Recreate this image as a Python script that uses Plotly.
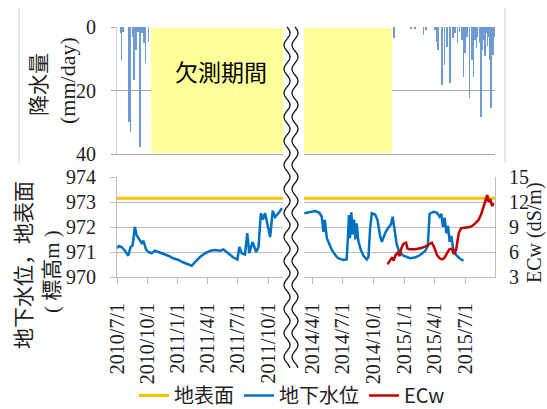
import numpy as np
import pandas as pd
import plotly.graph_objects as go

# ---------------- data ----------------
ground_level = 973.15  # 地表面 (標高m)

left_range = ["2010-07-01", "2011-11-15"]
right_range = ["2014-03-08", "2015-09-28"]
missing_period = ["2010-10-12", "2014-11-25"]  # 欠測期間 (rainfall)

left_tick_labels = ["2010/7/1", "2010/10/1", "2011/1/1", "2011/4/1", "2011/7/1", "2011/10/1"]
right_tick_labels = ["2014/4/1", "2014/7/1", "2014/10/1", "2015/1/1", "2015/4/1", "2015/7/1"]

gw_left_dates = [
    "2010-07-01", "2010-07-07", "2010-07-15", "2010-07-25", "2010-08-04", "2010-08-11",
    "2010-08-17", "2010-08-24", "2010-08-30", "2010-09-06", "2010-09-14", "2010-09-19",
    "2010-09-27", "2010-10-04", "2010-10-14", "2010-10-24", "2010-11-03", "2010-11-18",
    "2010-12-03", "2010-12-18", "2011-01-03", "2011-01-18", "2011-02-02", "2011-02-12",
    "2011-02-22", "2011-03-09", "2011-03-24", "2011-04-09", "2011-04-24", "2011-05-09",
    "2011-05-19", "2011-06-03", "2011-06-18", "2011-06-30", "2011-07-06", "2011-07-13",
    "2011-07-23", "2011-07-30", "2011-08-05", "2011-08-15", "2011-08-26", "2011-09-02",
    "2011-09-09", "2011-09-15", "2011-09-22", "2011-09-29", "2011-10-07", "2011-10-15",
    "2011-10-22", "2011-11-01", "2011-11-12",
]
gw_left_vals = [
    971.15, 971.24, 971.20, 971.05, 970.85, 971.20,
    971.25, 972.00, 971.65, 971.50, 971.35, 971.45,
    971.10, 971.00, 970.95, 971.05, 971.00, 970.95,
    970.85, 970.75, 970.68, 970.58, 970.50, 970.45,
    970.60, 970.80, 970.95, 971.05, 971.08, 971.05,
    971.10, 970.92, 970.78, 970.70, 971.20, 970.95,
    970.90, 971.75, 970.95, 971.40, 971.00, 971.20,
    972.55, 972.30, 972.55, 972.10, 971.60, 972.65,
    972.40, 972.55, 972.75,
]

gw_right_dates = [
    "2014-03-09", "2014-03-26", "2014-04-10", "2014-04-23", "2014-04-30", "2014-05-05",
    "2014-05-09", "2014-05-15", "2014-05-23", "2014-05-30", "2014-06-09", "2014-06-18",
    "2014-07-03", "2014-07-13", "2014-07-17", "2014-07-20", "2014-07-23", "2014-07-27",
    "2014-07-31", "2014-08-04", "2014-08-08", "2014-08-12", "2014-08-17", "2014-08-24",
    "2014-09-01", "2014-09-11", "2014-09-16", "2014-09-21", "2014-09-26", "2014-10-06",
    "2014-10-13", "2014-10-21", "2014-10-26", "2014-11-05", "2014-11-14", "2014-11-22",
    "2014-11-27", "2014-12-02", "2014-12-09", "2014-12-17", "2014-12-29", "2015-01-18",
    "2015-02-02", "2015-02-17", "2015-03-04", "2015-03-12", "2015-03-17", "2015-03-29",
    "2015-04-08", "2015-04-16", "2015-04-21", "2015-04-26", "2015-05-01", "2015-05-06",
    "2015-05-11", "2015-05-16", "2015-05-21", "2015-05-26", "2015-06-04", "2015-06-14",
    "2015-06-26",
]
gw_right_vals = [
    972.55, 972.59, 972.64, 972.57, 972.41, 971.81,
    972.28, 971.55, 971.28, 971.08, 970.88, 970.75,
    970.68, 970.70, 971.61, 972.48, 971.55, 972.59,
    971.70, 972.30, 971.50, 972.15, 971.43, 971.10,
    970.85, 970.70, 970.80, 971.95, 972.55, 972.50,
    972.28, 971.61, 971.41, 971.77, 971.97, 972.10,
    972.41, 971.90, 971.32, 971.00, 970.85, 970.75,
    970.78, 970.88, 971.04, 971.24, 972.52, 972.61,
    972.57, 972.41, 972.52, 972.01, 972.37, 971.75,
    972.04, 971.41, 971.64, 971.15, 970.88, 970.75,
    970.65,
]

ecw_dates = [
    "2014-11-12", "2014-11-18", "2014-11-25", "2014-11-30", "2014-12-06", "2014-12-12",
    "2014-12-18", "2014-12-23", "2014-12-29", "2015-01-06", "2015-01-10", "2015-01-16",
    "2015-02-02", "2015-02-17", "2015-03-04", "2015-03-17", "2015-03-24", "2015-03-31",
    "2015-04-08", "2015-04-16", "2015-04-23", "2015-04-30", "2015-05-08", "2015-05-15",
    "2015-05-23", "2015-05-28", "2015-06-04", "2015-06-12", "2015-06-19", "2015-06-27",
    "2015-07-12", "2015-07-22", "2015-07-31", "2015-08-10", "2015-08-18", "2015-08-25",
    "2015-08-31", "2015-09-05", "2015-09-09", "2015-09-14", "2015-09-19", "2015-09-24",
]
ecw_vals = [
    4.52, 4.96, 5.36, 4.96, 5.64, 5.92,
    5.52, 6.44, 6.96, 7.12, 6.44, 6.32,
    6.32, 6.44, 6.64, 6.96, 7.12, 6.56,
    5.64, 5.24, 5.12, 5.28, 5.92, 6.32,
    6.40, 5.76, 6.24, 8.24, 8.84, 8.92,
    8.96, 9.12, 9.44, 9.84, 10.56, 11.44,
    12.32, 12.84, 12.04, 12.32, 11.52, 11.84,
]

rain_left_dates = [
    "2010-07-12", "2010-07-15", "2010-07-20", "2010-08-07", "2010-08-11", "2010-08-17",
    "2010-08-22", "2010-08-27", "2010-09-03", "2010-09-09", "2010-09-14", "2010-09-21",
    "2010-09-25", "2010-10-04",
]
rain_left_vals = [2.0, 10.4, 1.5, 29.8, 33.0, 3.0, 16.7, 7.2, 1.5, 37.7, 2.0, 5.1, 11.4, 4.6]

rain_right_dates = [
    "2014-12-01", "2015-01-20", "2015-02-02", "2015-02-27", "2015-03-06", "2015-04-02",
    "2015-04-08", "2015-04-11", "2015-04-23", "2015-04-30", "2015-05-08", "2015-05-17",
    "2015-05-25", "2015-06-01", "2015-06-08", "2015-06-14", "2015-06-21", "2015-06-26",
    "2015-07-01", "2015-07-06", "2015-07-14", "2015-07-21", "2015-07-26", "2015-07-31",
    "2015-08-04", "2015-08-07", "2015-08-13", "2015-08-17", "2015-08-20", "2015-08-25",
    "2015-08-29", "2015-09-02", "2015-09-06", "2015-09-09", "2015-09-12", "2015-09-14",
    "2015-09-16", "2015-09-19", "2015-09-22", "2015-09-26",
]
rain_right_vals = [
    3.6, 0.6, 0.5, 2.5, 1.0, 0.8,
    4.6, 7.2, 18.3, 12.0, 6.2, 17.7,
    3.6, 2.0, 5.1, 1.5, 4.1, 15.6,
    8.3, 3.0, 22.5, 10.4, 15.6, 4.1,
    6.5, 3.0, 5.1, 28.2, 7.2, 4.1,
    9.0, 2.0, 6.0, 3.0, 10.4, 19.8,
    25.6, 5.0, 8.8, 3.0,
]

# ---------------- layout helpers ----------------
W, H = 547, 409
def px(x):
    return x / W
def py(y):
    return 1 - y / H

XL = [px(117), px(283)]
XR = [px(304), px(495)]
YB = [py(277), py(177)]
YT = [py(154), py(27)]

SERIF = "Liberation Serif, Noto Sans CJK JP"
CJK = "Noto Sans CJK JP, Liberation Serif"
TXT = "#1e1e1e"
YELLOW = "#FFC000"
BLUE = "#0070C0"
RED = "#C00000"
RAIN = "#6F9BD3"
GRID_B = "#bdbdbd"
GRID_T = "#a6a6a6"

def to_iso(labels):
    return [pd.to_datetime(s, format="%Y/%m/%d").strftime("%Y-%m-%d") for s in labels]

fig = go.Figure()

# ground surface
fig.add_trace(go.Scatter(x=left_range, y=[ground_level] * 2, mode="lines", name="地表面",
                         line=dict(color=YELLOW, width=3), xaxis="x", yaxis="y",
                         legendgroup="g", showlegend=True))
fig.add_trace(go.Scatter(x=right_range, y=[ground_level] * 2, mode="lines", name="地表面",
                         line=dict(color=YELLOW, width=3), xaxis="x2", yaxis="y2",
                         legendgroup="g", showlegend=False))
# groundwater
fig.add_trace(go.Scatter(x=gw_left_dates, y=gw_left_vals, mode="lines", name="地下水位",
                         line=dict(color=BLUE, width=2.5), xaxis="x", yaxis="y",
                         legendgroup="w", showlegend=True))
fig.add_trace(go.Scatter(x=gw_right_dates, y=gw_right_vals, mode="lines", name="地下水位",
                         line=dict(color=BLUE, width=2.5), xaxis="x2", yaxis="y2",
                         legendgroup="w", showlegend=False))
# ECw
fig.add_trace(go.Scatter(x=ecw_dates, y=ecw_vals, mode="lines", name="ECw",
                         line=dict(color=RED, width=2.5), xaxis="x2", yaxis="y3",
                         legendgroup="e", showlegend=True))
# rainfall
DAY = 86400000
fig.add_trace(go.Bar(x=rain_left_dates, y=rain_left_vals, width=1.8 * DAY,
                     marker=dict(color=RAIN, line=dict(width=0)), xaxis="x3", yaxis="y4",
                     showlegend=False))
fig.add_trace(go.Bar(x=rain_right_dates, y=rain_right_vals, width=1.8 * DAY,
                     marker=dict(color=RAIN, line=dict(width=0)), xaxis="x4", yaxis="y5",
                     showlegend=False))

tickfont = dict(family=SERIF, size=20, color=TXT)

xcommon = dict(type="date", automargin=False, showgrid=False, zeroline=False)
fig.update_layout(
    xaxis=dict(**xcommon, domain=XL, range=left_range, anchor="y",
               tickvals=to_iso(left_tick_labels), ticktext=left_tick_labels,
               tickangle=-90, ticks="outside", ticklen=6, tickcolor=GRID_B,
               showline=True, linecolor=GRID_B, tickfont=tickfont, ticklabelstandoff=11),
    xaxis2=dict(**xcommon, domain=XR, range=right_range, anchor="y2",
                tickvals=to_iso(right_tick_labels), ticktext=right_tick_labels,
                tickangle=-90, ticks="outside", ticklen=6, tickcolor=GRID_B,
                showline=True, linecolor=GRID_B, tickfont=tickfont, ticklabelstandoff=11),
    xaxis3=dict(**xcommon, domain=XL, range=left_range, anchor="y4",
                showticklabels=False, showline=True, linecolor=GRID_T),
    xaxis4=dict(**xcommon, domain=XR, range=right_range, anchor="y5",
                showticklabels=False, showline=True, linecolor=GRID_T),
    yaxis=dict(domain=YB, range=[970, 974], dtick=1, anchor="x", automargin=False,
               showgrid=True, gridcolor=GRID_B, zeroline=False, showline=True,
               linecolor=GRID_B, ticks="outside", ticklen=6, tickcolor=GRID_B,
               tickfont=tickfont, ticklabelstandoff=10),
    yaxis2=dict(domain=YB, range=[970, 974], dtick=1, anchor="x2", automargin=False,
                showgrid=True, gridcolor=GRID_B, zeroline=False, showticklabels=False),
    yaxis3=dict(overlaying="y2", side="right", anchor="x2", range=[3, 15], dtick=3,
                automargin=False, showgrid=False, zeroline=False, showline=True,
                linecolor=GRID_B, tickfont=tickfont, ticklabelstandoff=9),
    yaxis4=dict(domain=YT, range=[40, 0], dtick=20, anchor="x3", automargin=False,
                showgrid=True, gridcolor=GRID_T, zeroline=False, showline=True,
                linecolor="#cfcfcf", ticks="outside", ticklen=5, tickcolor=GRID_T,
                tickfont=tickfont, ticklabelstandoff=11),
    yaxis5=dict(domain=YT, range=[40, 0], dtick=20, anchor="x4", automargin=False,
                showgrid=True, gridcolor=GRID_T, zeroline=False, showticklabels=False),
)

shapes = []
# missing-period highlight (drawn above the gridlines)
shapes.append(dict(type="rect", xref="x3", yref="y4", x0=missing_period[0], x1=left_range[1],
                   y0=0.3, y1=39.6, fillcolor="#FFFF99", line=dict(width=0), layer="above"))
shapes.append(dict(type="rect", xref="x4", yref="y5", x0=right_range[0], x1=missing_period[1],
                   y0=0.3, y1=39.6, fillcolor="#FFFF99", line=dict(width=0), layer="above"))

# wavy break marks
yy = np.linspace(27, 368, 240)
for cx in (287.0, 295.0):
    xx = cx + 3.0 * np.sin(2 * np.pi * (yy - 27) / 24.0)
    path = "M" + " L".join(f"{px(a):.5f},{py(b):.5f}" for a, b in zip(xx, yy))
    shapes.append(dict(type="path", xref="paper", yref="paper", path=path,
                       line=dict(color="#111111", width=1.3), layer="above"))

# chart-area border pieces of the rainfall chart
for xb in (19, 505):
    shapes.append(dict(type="line", xref="paper", yref="paper", x0=px(xb), x1=px(xb),
                       y0=py(8), y1=py(163), line=dict(color="#d0d0d0", width=1)))

def ann(text, x, y, font, angle=0):
    return dict(text=text, x=px(x), y=py(y), xref="paper", yref="paper", showarrow=False,
                xanchor="center", yanchor="middle", textangle=angle, font=font)

annotations = [
    ann("欠測期間", 221, 71, dict(family="Noto Sans CJK JP", size=23, color="#000000")),
    ann("降水量", 37, 85, dict(family=CJK, size=21, color=TXT), -90),
    ann("(mm/day)", 68, 81, dict(family=SERIF, size=22, color=TXT), -90),
    ann("地下水位，地表面", 22, 265, dict(family=CJK, size=21, color=TXT), -90),
    ann("( 標高m )", 52, 272, dict(family=SERIF, size=21, color=TXT), -90),
    ann("ECw (dS/m)", 534, 233, dict(family=SERIF, size=20, color=TXT), -90),
]

fig.update_layout(
    template="none",
    width=W, height=H,
    margin=dict(l=0, r=0, t=0, b=0, autoexpand=False),
    paper_bgcolor="white", plot_bgcolor="rgba(0,0,0,0)",
    font=dict(family=SERIF, size=20, color=TXT),
    bargap=0,
    shapes=shapes,
    annotations=annotations,
    legend=dict(orientation="h", x=px(134), y=py(376), xanchor="left", yanchor="top",
                bgcolor="rgba(0,0,0,0)", font=dict(family=CJK, size=20, color=TXT),
                itemwidth=30, tracegroupgap=0),
    showlegend=True,
)

fig.write_html("out.html", config={"displayModeBar": False},
               post_script="document.body.style.margin='0';document.body.style.overflow='hidden';")
